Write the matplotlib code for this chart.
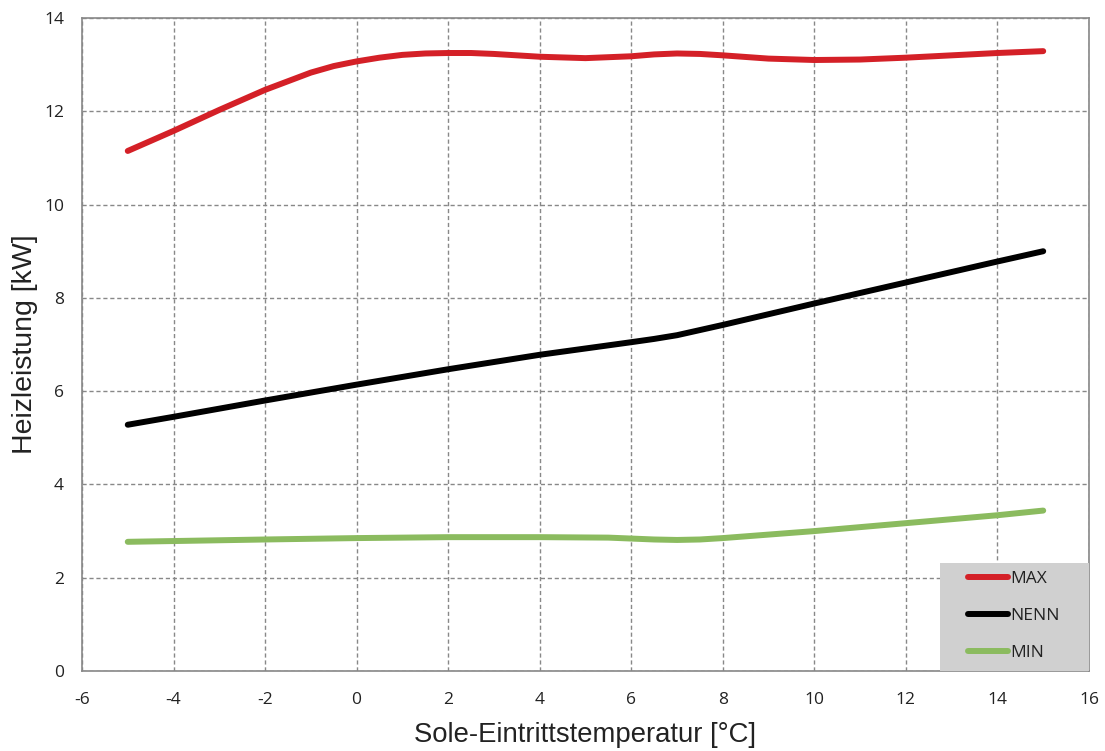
import matplotlib
matplotlib.use("Agg")
import matplotlib.pyplot as plt
from matplotlib.patches import Rectangle

x_max = [-5, -4, -3, -2, -1, -0.5, 0, 0.5, 1, 1.5, 2, 2.5, 3, 4, 5, 6, 6.5, 7, 7.5, 8, 9, 10, 11, 12, 13, 14, 15]
y_max = [11.15, 11.58, 12.03, 12.46, 12.83, 12.97, 13.07, 13.15, 13.21, 13.24, 13.25, 13.25, 13.23, 13.17, 13.14, 13.18, 13.22, 13.24, 13.23, 13.2, 13.13, 13.1, 13.11, 13.15, 13.2, 13.25, 13.29]

x_nenn = [-5, -4, -2, 0, 2, 4, 6, 6.5, 7, 8, 10, 12, 14, 15]
y_nenn = [5.28, 5.45, 5.8, 6.14, 6.47, 6.78, 7.05, 7.12, 7.2, 7.42, 7.88, 8.33, 8.78, 9.0]

x_min = [-5, -2, 0, 2, 4, 5.5, 6, 6.5, 7, 7.5, 8, 10, 12, 14, 15]
y_min = [2.77, 2.82, 2.85, 2.87, 2.87, 2.86, 2.84, 2.82, 2.81, 2.82, 2.85, 3.0, 3.17, 3.34, 3.44]

labels = ["MAX", "NENN", "MIN"]
colors = ["#d42027", "#000000", "#8bbb5f"]

xticks = list(range(-6, 17, 2))
yticks = list(range(0, 15, 2))

fig = plt.figure(figsize=(11.05, 7.51), dpi=100)
ax = fig.add_axes([0.0742, 0.1065, 0.9113, 0.8695])

for xs, ys, lab, c in zip([x_max, x_nenn, x_min], [y_max, y_nenn, y_min], labels, colors):
    ax.plot(xs, ys, color=c, lw=4.3, label=lab, solid_capstyle="round", solid_joinstyle="round")

ax.set_xlim(-6, 16)
ax.set_ylim(0, 14)
ax.set_xticks(xticks)
ax.set_yticks(yticks)
ax.set_xticklabels([str(t) for t in xticks], fontfamily="Open Sans", fontsize=12.5, color="#222222")
ax.set_yticklabels([str(t) for t in yticks], fontfamily="Open Sans", fontsize=12.5, color="#222222")
ax.tick_params(axis="y", length=0, pad=13)
ax.tick_params(axis="x", length=0, pad=15)
ax.grid(True, color="#888888", linestyle=(0, (3, 2)), linewidth=1)
for s in ax.spines.values():
    s.set_color("#888888")
    s.set_linewidth(1.2)

ax.set_xlabel("Sole-Eintrittstemperatur [°C]", fontfamily="Liberation Sans", fontsize=19.8, color="#222222", labelpad=10)
ax.set_ylabel("Heizleistung [kW]", fontfamily="Liberation Sans", fontsize=20.5, color="#222222", labelpad=4)

# legend background box
ax.add_patch(Rectangle((0.852, 0.0), 0.148, 0.165, transform=ax.transAxes,
                       facecolor="#d0d0d0", edgecolor="none", zorder=4.5, clip_on=False))

leg = ax.legend(loc="center left", bbox_to_anchor=(0.880, 0.0842), frameon=False,
                borderaxespad=0, borderpad=0,
                prop={"family": "Open Sans", "size": 12.5}, handlelength=2.3,
                handletextpad=0.1, labelspacing=1.2)
leg.set_zorder(6)
for t in leg.get_texts():
    t.set_color("#222222")

fig.savefig("out.png", dpi=100)
